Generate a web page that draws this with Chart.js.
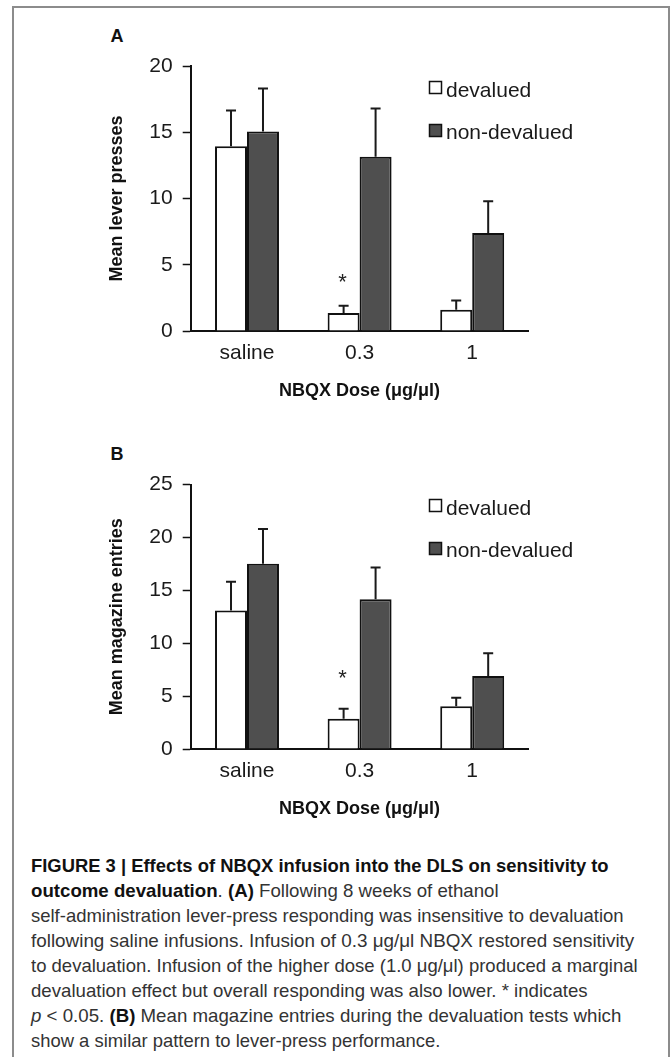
<!DOCTYPE html>
<html><head><meta charset="utf-8">
<script src="https://cdn.jsdelivr.net/npm/chart.js@4.4.1/dist/chart.umd.min.js"></script>
<style>
html,body{margin:0;padding:0;background:#fff;width:671px;height:1057px;overflow:hidden;font-family:"Liberation Sans",Arial,sans-serif;}
#frame{position:absolute;left:12px;top:6px;width:658px;height:1100px;border:2px solid #8c8c8c;box-sizing:border-box;}
.panel{position:absolute;left:0;width:671px;height:418px;}
.plabel{position:absolute;left:110.5px;font-weight:bold;font-size:18px;color:#111;line-height:20px;}
#caption{position:absolute;left:30.7px;top:852.8px;font-size:18.4px;line-height:25px;color:#333;}
.cl{white-space:nowrap;transform-origin:0 0;display:block;width:max-content;height:25px;}
#caption b{color:#111;}
</style></head>
<body>
<div id="frame"></div>
<div class="plabel" style="top:25.5px">A</div>
<div class="plabel" style="top:443.5px">B</div>
<div class="panel" style="top:0"><canvas id="chartA"></canvas></div>
<div class="panel" style="top:418px"><canvas id="chartB"></canvas></div>
<div id="caption"></div>
<script>
// ---- data ----
const categories = ['saline', '0.3', '1'];
const seriesNames = ['devalued', 'non-devalued'];

const leverDevalued = [13.95, 1.35, 1.6];
const leverDevaluedErr = [2.7, 0.55, 0.7];
const leverNonDevalued = [15.05, 13.15, 7.4];
const leverNonDevaluedErr = [3.25, 3.65, 2.4];
const leverStars = [null, 4.1, null];
const leverTicks = [0, 5, 10, 15, 20];

const magDevalued = [13.1, 2.85, 4.05];
const magDevaluedErr = [2.7, 0.95, 0.8];
const magNonDevalued = [17.5, 14.15, 6.9];
const magNonDevaluedErr = [3.3, 3.0, 2.15];
const magStars = [null, 7.2, null];
const magTicks = [0, 5, 10, 15, 20, 25];

const xTitle = 'NBQX Dose (μg/μl)';

// ---- plugins ----
const errorBars = {
  id: 'errorBars',
  afterDatasetsDraw(chart, args, opts) {
    const ctx = chart.ctx, ys = chart.scales.y;
    chart.data.datasets.forEach((ds, di) => {
      const meta = chart.getDatasetMeta(di);
      meta.data.forEach((bar, i) => {
        const top = ys.getPixelForValue(ds.data[i] + ds.errors[i]);
        ctx.save();
        ctx.strokeStyle = '#1a1a1a';
        ctx.lineWidth = 2;
        ctx.beginPath();
        ctx.moveTo(bar.x, bar.y);
        ctx.lineTo(bar.x, top);
        ctx.moveTo(bar.x - 5, top);
        ctx.lineTo(bar.x + 5, top);
        ctx.stroke();
        ctx.restore();
      });
    });
    const stars = chart.options.plugins.errorBars.stars || [];
    const meta0 = chart.getDatasetMeta(0);
    stars.forEach((s, i) => {
      if (s === null) return;
      const bar = meta0.data[i];
      ctx.save();
      ctx.fillStyle = '#222';
      ctx.font = '22px "Liberation Sans", Arial, sans-serif';
      ctx.textAlign = 'center';
      ctx.textBaseline = 'alphabetic';
      ctx.fillText('*', bar.x - 1, ys.getPixelForValue(s) + 12.5);
      ctx.restore();
    });
  }
};

const customLegend = {
  id: 'customLegend',
  afterDraw(chart, args, opts) {
    const ctx = chart.ctx;
    chart.data.datasets.forEach((ds, i) => {
      const bc = opts.boxCenters[i];
      ctx.save();
      ctx.fillStyle = ds.backgroundColor;
      ctx.strokeStyle = '#111';
      ctx.lineWidth = 1.5;
      ctx.fillRect(opts.boxX, bc - 6, 12, 12);
      ctx.strokeRect(opts.boxX, bc - 6, 12, 12);
      ctx.fillStyle = '#1a1a1a';
      ctx.font = '21px "Liberation Sans", Arial, sans-serif';
      ctx.textAlign = 'left';
      ctx.textBaseline = 'alphabetic';
      ctx.fillText(ds.label, opts.textX, opts.baselines[i]);
      ctx.restore();
    });
  }
};

Chart.defaults.font.family = '"Liberation Sans", Arial, sans-serif';
Chart.defaults.color = '#1a1a1a';

function makeChart(id, devalued, devaluedErr, nondev, nondevErr, stars, ticks, yTitle, topPad) {
  return new Chart(document.getElementById(id), {
    type: 'bar',
    data: {
      labels: categories,
      datasets: [
        { label: seriesNames[0], data: devalued, errors: devaluedErr, backgroundColor: '#ffffff',
          borderColor: '#111', borderWidth: 2, categoryPercentage: 0.568, barPercentage: 1 },
        { label: seriesNames[1], data: nondev, errors: nondevErr, backgroundColor: '#4f4f4f',
          borderColor: '#111', borderWidth: 2, categoryPercentage: 0.568, barPercentage: 1 }
      ]
    },
    options: {
      responsive: true,
      maintainAspectRatio: false,
      animation: false,
      events: [],
      layout: { padding: { left: 0, right: 142.5, top: topPad, bottom: 0 } },
      plugins: {
        legend: { display: false },
        tooltip: { enabled: false },
        errorBars: { stars: stars },
        customLegend: { boxX: 429.5, boxCenters: [87.5, 130.5], textX: 446, baselines: [96.7, 139.2] }
      },
      scales: {
        x: {
          grid: { display: false, drawTicks: false },
          border: { display: true, color: '#111', width: 2 },
          ticks: { padding: 10, font: { size: 21 }, color: '#1a1a1a' },
          title: { display: true, text: xTitle, font: { size: 18, weight: 'bold' }, color: '#111',
                   padding: { top: 0, bottom: 16.2 } },
          afterFit(s) { s.height = 87; }
        },
        y: {
          min: ticks[0], max: ticks[ticks.length - 1],
          afterBuildTicks(s) { s.ticks = ticks.map(v => ({ value: v })); },
          grid: { drawOnChartArea: false, drawTicks: true, tickLength: 8, tickWidth: 1.5, tickColor: '#111' },
          border: { display: true, color: '#111', width: 2 },
          ticks: { padding: 10, font: { size: 21 }, color: '#1a1a1a' },
          title: { display: true, text: yTitle, font: { size: 18, weight: 'bold' }, color: '#111',
                   padding: { top: 106.5, bottom: 0 } },
          afterFit(s) { s.width = 190.7; }
        }
      }
    },
    plugins: [errorBars, customLegend]
  });
}

makeChart('chartA', leverDevalued, leverDevaluedErr, leverNonDevalued, leverNonDevaluedErr,
          leverStars, leverTicks, 'Mean lever presses', 66);
makeChart('chartB', magDevalued, magDevaluedErr, magNonDevalued, magNonDevaluedErr,
          magStars, magTicks, 'Mean magazine entries', 66.5);

// ---- caption ----
const captionLines = [
  '<b>FIGURE 3 | Effects of NBQX infusion into the DLS on sensitivity to</b>',
  '<b>outcome devaluation</b>. <b>(A)</b> Following 8 weeks of ethanol',
  'self-administration lever-press responding was insensitive to devaluation',
  'following saline infusions. Infusion of 0.3 μg/μl NBQX restored sensitivity',
  'to devaluation. Infusion of the higher dose (1.0 μg/μl) produced a marginal',
  'devaluation effect but overall responding was also lower. * indicates',
  '<i>p</i> &lt; 0.05. <b>(B)</b> Mean magazine entries during the devaluation tests which',
  'show a similar pattern to lever-press performance.'
];
const captionWidths = [577.6, 467.6, 592.6, 603.3, 606.6, 556.6, 590.3, 409.3];
const cap = document.getElementById('caption');
captionLines.forEach((html, i) => {
  const d = document.createElement('div');
  d.className = 'cl';
  d.innerHTML = html;
  cap.appendChild(d);
  const w = d.getBoundingClientRect().width;
  d.style.transform = 'scaleX(' + (captionWidths[i] / w) + ')';
});
</script>
</body></html>
